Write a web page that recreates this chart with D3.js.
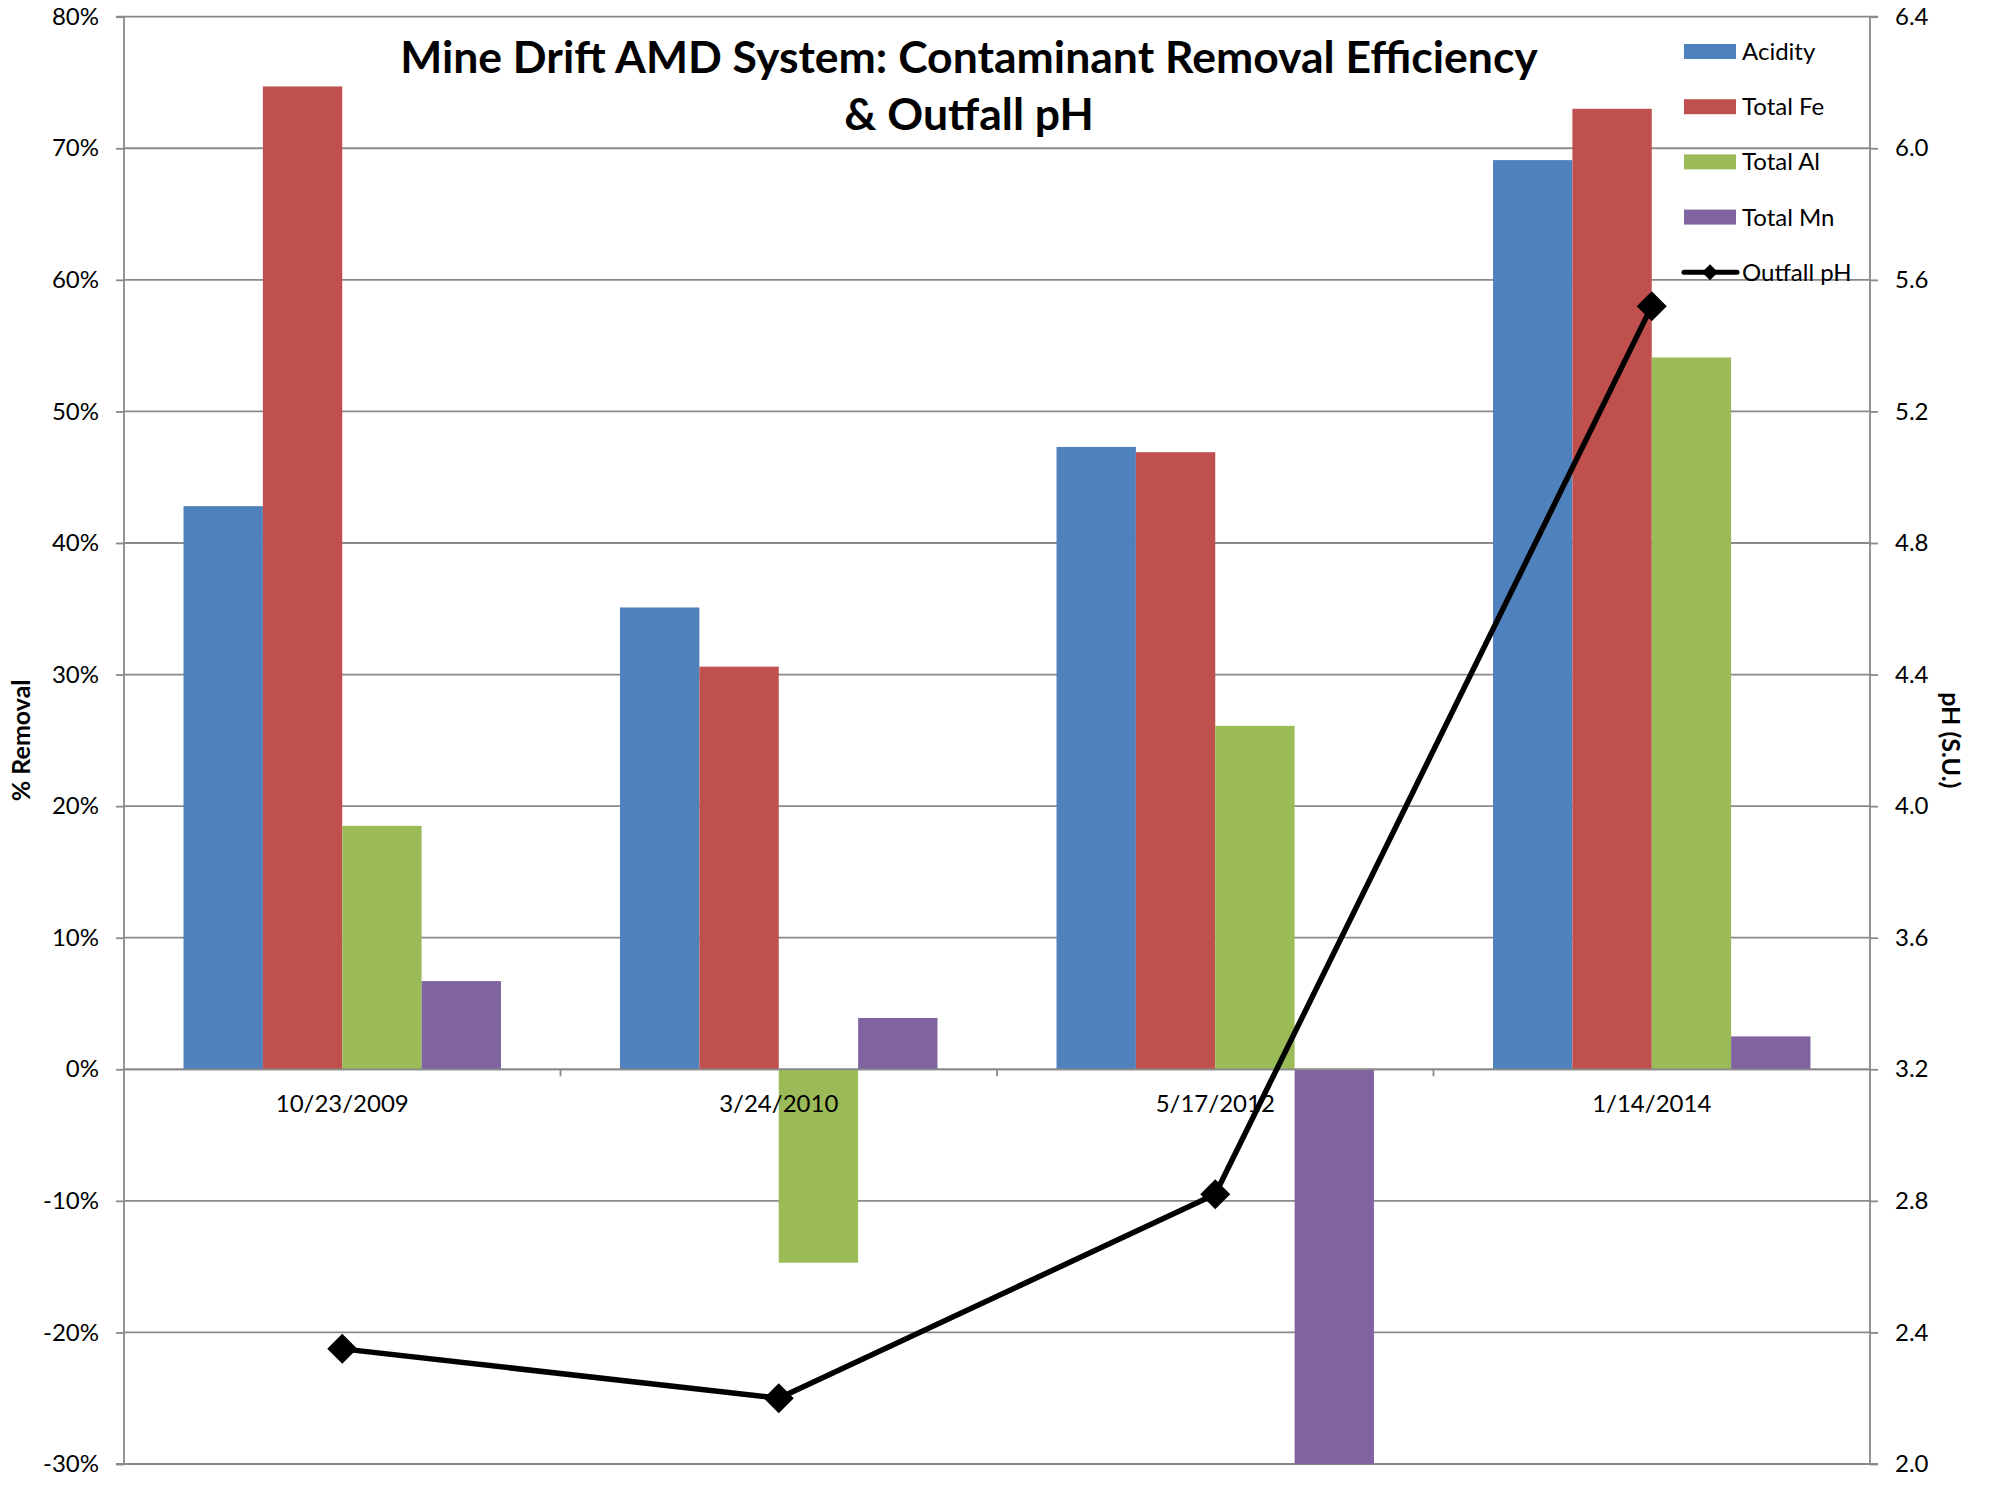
<!DOCTYPE html>
<html>
<head>
<meta charset="utf-8">
<script src="https://cdn.jsdelivr.net/npm/d3@7"></script>
<style>
  html, body { margin: 0; padding: 0; background: #fff; }
  svg { display: block; }
  text { font-family: Lato, "Open Sans", sans-serif; fill: #000; }
</style>
</head>
<body>
<svg id="chart" width="1990" height="1485"></svg>
<script>
// Sampling dates (categories)
const dates = ["10/23/2009", "3/24/2010", "5/17/2012", "1/14/2014"];

// Percent removal per contaminant
const seriesNames = ["Acidity", "Total Fe", "Total Al", "Total Mn"];
const acidity = [42.8, 35.1, 47.3, 69.1];
const totalFe = [74.7, 30.6, 46.9, 73.0];
const totalAl = [18.5, -14.7, 26.1, 54.1];
const totalMn = [6.7, 3.9, -30.0, 2.5];

// Outfall pH (secondary axis)
const outfallPH = [2.35, 2.20, 2.82, 5.52];

// Axis ticks
const removalTicks = [-30, -20, -10, 0, 10, 20, 30, 40, 50, 60, 70, 80];
const phTicks = [2.0, 2.4, 2.8, 3.2, 3.6, 4.0, 4.4, 4.8, 5.2, 5.6, 6.0, 6.4];

const colors = ["#4F81BD", "#C0504D", "#9BBB59", "#8064A2"];
const seriesValues = [acidity, totalFe, totalAl, totalMn];

const svg = d3.select("#chart");
const plotLeft = 124, plotRight = 1870, plotTop = 16.7, plotBottom = 1464;
const gridColor = "#8a8a8a";
const labelSize = 24;

const x0 = d3.scaleBand().domain(dates).range([plotLeft, plotRight]).paddingInner(0).paddingOuter(0);
const x1 = d3.scaleBand().domain(seriesNames).range([0, x0.bandwidth()]).paddingInner(0).paddingOuter(0.75);
const y = d3.scaleLinear().domain([-30, 80]).range([plotBottom, plotTop]);
const yPH = d3.scaleLinear().domain([2.0, 6.4]).range([plotBottom, plotTop]);

// Clip for the plot area
svg.append("defs").append("clipPath").attr("id", "plotClip")
  .append("rect").attr("x", plotLeft).attr("y", plotTop)
  .attr("width", plotRight - plotLeft).attr("height", plotBottom - plotTop);

// Horizontal gridlines
svg.append("g").selectAll("line").data(removalTicks).join("line")
  .attr("x1", plotLeft).attr("x2", plotRight)
  .attr("y1", d => y(d)).attr("y2", d => y(d))
  .attr("stroke", gridColor).attr("stroke-width", 1.8);

// Bars
const bars = svg.append("g").attr("clip-path", "url(#plotClip)");
dates.forEach((dt, i) => {
  seriesNames.forEach((s, j) => {
    const v = seriesValues[j][i];
    bars.append("rect")
      .attr("x", x0(dt) + x1(s))
      .attr("width", x1.bandwidth())
      .attr("y", y(Math.max(0, v)))
      .attr("height", Math.abs(y(v) - y(0)))
      .attr("fill", colors[j]);
  });
});

// Zero line (category axis)
svg.append("line").attr("x1", plotLeft).attr("x2", plotRight)
  .attr("y1", y(0)).attr("y2", y(0))
  .attr("stroke", gridColor).attr("stroke-width", 1.8);

// Category tick marks at boundaries
const boundaries = dates.map(d => x0(d)).slice(1);
svg.append("g").selectAll("line").data(boundaries).join("line")
  .attr("x1", d => d).attr("x2", d => d)
  .attr("y1", y(0)).attr("y2", y(0) + 7)
  .attr("stroke", gridColor).attr("stroke-width", 1.8);

// Category labels
svg.append("g").selectAll("text").data(dates).join("text")
  .attr("x", d => x0(d) + x0.bandwidth() / 2)
  .attr("y", y(0) + 43)
  .attr("text-anchor", "middle")
  .attr("font-size", labelSize)
  .text(d => d);

// Left axis
const leftAxis = d3.axisLeft(y).tickValues(removalTicks).tickSize(8).tickPadding(17)
  .tickFormat(d => d + "%");
const gl = svg.append("g").attr("transform", `translate(${plotLeft},0)`).call(leftAxis);
gl.select(".domain").attr("stroke", gridColor).attr("stroke-width", 1.8)
  .attr("d", `M-8,${plotTop}H0V${plotBottom}H-8`);
gl.selectAll(".tick line").attr("stroke", gridColor).attr("stroke-width", 1.8);
gl.selectAll(".tick text").attr("font-size", labelSize).attr("font-family", "Lato, sans-serif").attr("fill", "#000");

// Right axis
const rightAxis = d3.axisRight(yPH).tickValues(phTicks).tickSize(8).tickPadding(17)
  .tickFormat(d3.format(".1f"));
const gr = svg.append("g").attr("transform", `translate(${plotRight},0)`).call(rightAxis);
gr.select(".domain").attr("stroke", gridColor).attr("stroke-width", 1.8)
  .attr("d", `M8,${plotTop}H0V${plotBottom}H8`);
gr.selectAll(".tick line").attr("stroke", gridColor).attr("stroke-width", 1.8);
gr.selectAll(".tick text").attr("font-size", labelSize).attr("font-family", "Lato, sans-serif").attr("fill", "#000");

// Axis titles
svg.append("text")
  .attr("transform", `translate(30,${(plotTop + plotBottom) / 2}) rotate(-90)`)
  .attr("text-anchor", "middle").attr("font-size", 25).attr("font-weight", "bold")
  .text("% Removal");
svg.append("text")
  .attr("transform", `translate(1942,${(plotTop + plotBottom) / 2}) rotate(90)`)
  .attr("text-anchor", "middle").attr("font-size", 25).attr("font-weight", "bold")
  .text("pH (S.U.)");

// pH line with diamond markers
const cx = d => x0(d) + x0.bandwidth() / 2;
const phLine = d3.line().x((d, i) => cx(dates[i])).y(d => yPH(d));
svg.append("path").datum(outfallPH)
  .attr("d", phLine).attr("fill", "none")
  .attr("stroke", "#000").attr("stroke-width", 5.5).attr("stroke-linejoin", "round");
svg.append("g").selectAll("path").data(outfallPH).join("path")
  .attr("transform", (d, i) => `translate(${cx(dates[i])},${yPH(d)}) rotate(45)`)
  .attr("d", d3.symbol().type(d3.symbolSquare).size(450))
  .attr("fill", "#000");

// Title
const title = svg.append("text").attr("text-anchor", "middle").attr("font-size", 44.5).attr("font-weight", "bold");
title.append("tspan").attr("x", 969).attr("y", 73).text("Mine Drift AMD System: Contaminant Removal Efficiency");
title.append("tspan").attr("x", 969).attr("y", 130).text("& Outfall pH");

// Legend
const legend = svg.append("g");
const legY = i => 51.5 + i * 55.2;
seriesNames.forEach((s, i) => {
  legend.append("rect").attr("x", 1684).attr("y", legY(i) - 7.5)
    .attr("width", 52).attr("height", 15).attr("fill", colors[i]);
  legend.append("text").attr("x", 1742).attr("y", legY(i)).attr("dy", "0.35em")
    .attr("font-size", labelSize).text(s);
});
legend.append("line").attr("x1", 1684).attr("x2", 1737).attr("y1", legY(4)).attr("y2", legY(4))
  .attr("stroke", "#000").attr("stroke-width", 5).attr("stroke-linecap", "round");
legend.append("path").attr("transform", `translate(1710,${legY(4)}) rotate(45)`)
  .attr("d", d3.symbol().type(d3.symbolSquare).size(130)).attr("fill", "#000");
legend.append("text").attr("x", 1742).attr("y", legY(4)).attr("dy", "0.35em")
  .attr("font-size", labelSize).text("Outfall pH");
</script>
</body>
</html>
